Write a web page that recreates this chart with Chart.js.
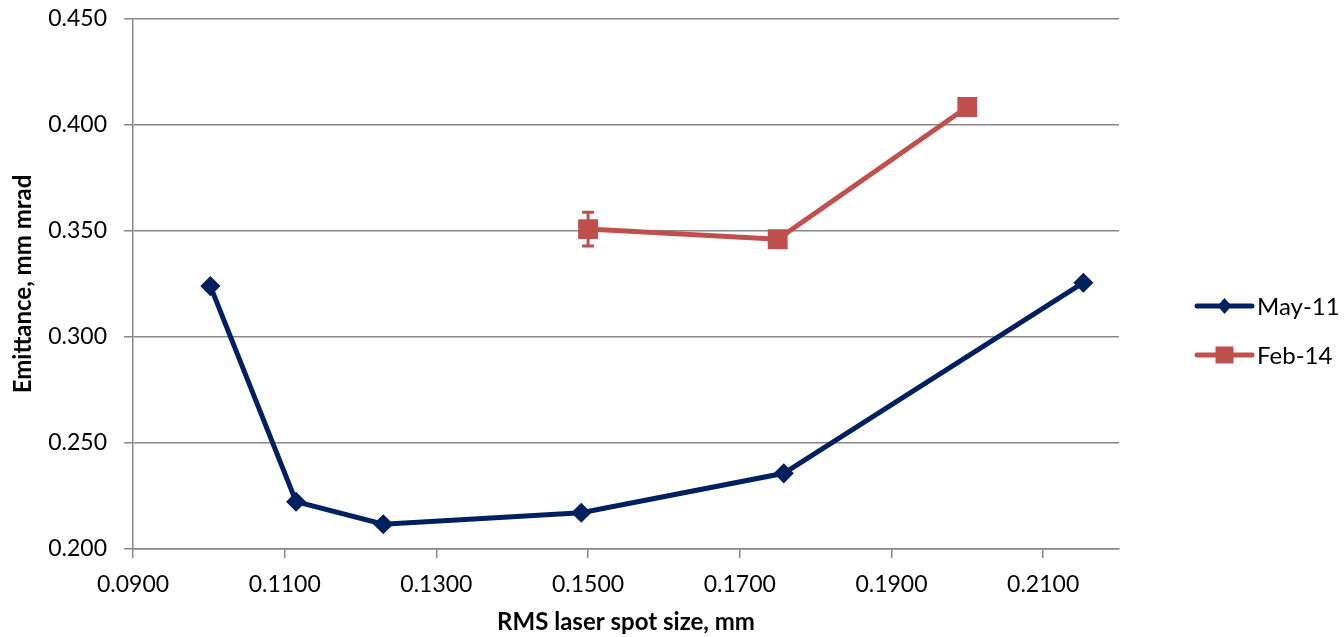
<!DOCTYPE html>
<html>
<head>
<meta charset="utf-8">
<script src="https://cdn.jsdelivr.net/npm/chart.js@4/dist/chart.umd.min.js"></script>
<style>
  html, body { margin: 0; padding: 0; background: #fff; }
  #wrap { width: 1344px; height: 637px; }
</style>
</head>
<body>
<div id="wrap"><canvas id="emitChart" width="1344" height="637"></canvas></div>
<script>
// ==== data ====
const may11X = [0.1002, 0.1115, 0.1230, 0.1491, 0.1758, 0.2153];
const may11Y = [0.3240, 0.2223, 0.2117, 0.2171, 0.2357, 0.3256];
const feb14X = [0.1500, 0.1750, 0.2000];
const feb14Y = [0.3509, 0.3461, 0.4085];
const feb14Err = [0.008, 0, 0];
const xTicks = [0.09, 0.11, 0.13, 0.15, 0.17, 0.19, 0.21];
const yTicks = [0.20, 0.25, 0.30, 0.35, 0.40, 0.45];

const navy = '#002060';
const red = '#C0504D';
const gridGray = '#878787';
const fontFamily = 'Lato, "Open Sans", sans-serif';

function toPoints(xs, ys) {
  return xs.map((x, i) => ({ x: x, y: ys[i] }));
}

// error bars on the Feb-14 series, drawn through the y scale
const errorBars = {
  id: 'errorBars',
  afterDatasetsDraw(chart) {
    const ctx = chart.ctx;
    const xs = chart.scales.x, ys = chart.scales.y;
    ctx.save();
    ctx.strokeStyle = red;
    ctx.lineWidth = 3;
    feb14X.forEach((x, i) => {
      if (!feb14Err[i]) return;
      const px = xs.getPixelForValue(x);
      const top = ys.getPixelForValue(feb14Y[i] + feb14Err[i]);
      const bot = ys.getPixelForValue(feb14Y[i] - feb14Err[i]);
      ctx.beginPath();
      ctx.moveTo(px, top); ctx.lineTo(px, bot);
      ctx.moveTo(px - 6, top); ctx.lineTo(px + 6, top);
      ctx.moveTo(px - 6, bot); ctx.lineTo(px + 6, bot);
      ctx.stroke();
    });
    ctx.restore();
  }
};

// legend to the right: line sample with marker, then label
const sideLegend = {
  id: 'sideLegend',
  afterDraw(chart) {
    const ctx = chart.ctx;
    const area = chart.chartArea;
    const x0 = area.right + 78;
    ctx.save();
    chart.data.datasets.forEach((ds, i) => {
      const y = area.top + 287 + i * 49;
      ctx.strokeStyle = ds.borderColor;
      ctx.lineWidth = 5;
      ctx.lineCap = 'round';
      ctx.beginPath();
      ctx.moveTo(x0, y); ctx.lineTo(x0 + 55, y);
      ctx.stroke();
      ctx.fillStyle = ds.borderColor;
      const cx = x0 + 27.5;
      ctx.beginPath();
      if (ds.pointStyle === 'rectRot') {
        ctx.moveTo(cx - 7, y); ctx.lineTo(cx, y - 8);
        ctx.lineTo(cx + 7, y); ctx.lineTo(cx, y + 8);
      } else {
        ctx.rect(cx - 9, y - 8.5, 18, 17);
      }
      ctx.closePath();
      ctx.fill();
      ctx.fillStyle = '#000';
      ctx.font = '24px ' + fontFamily;
      ctx.textBaseline = 'middle';
      ctx.textAlign = 'left';
      ctx.fillText(ds.label, x0 + 60, y + 1);
    });
    ctx.restore();
  }
};

new Chart(document.getElementById('emitChart'), {
  type: 'scatter',
  data: {
    datasets: [{
      label: 'May-11',
      data: toPoints(may11X, may11Y),
      showLine: true,
      borderColor: navy,
      backgroundColor: navy,
      borderWidth: 5,
      pointStyle: 'rectRot',
      pointRadius: 9,
      pointBorderWidth: 1.5,
      pointHoverRadius: 9
    }, {
      label: 'Feb-14',
      data: toPoints(feb14X, feb14Y),
      showLine: true,
      borderColor: red,
      backgroundColor: red,
      borderWidth: 5,
      pointStyle: 'rect',
      pointRadius: 13,
      pointBorderWidth: 1.5,
      pointHoverRadius: 13
    }]
  },
  options: {
    responsive: false,
    animation: false,
    layout: { padding: { top: 19, right: 225, left: 0, bottom: 0 } },
    plugins: {
      legend: { display: false },
      tooltip: { enabled: false }
    },
    scales: {
      x: {
        type: 'linear',
        min: 0.09,
        max: 0.22,
        afterBuildTicks: (scale) => { scale.ticks = xTicks.map(v => ({ value: v })); },
        afterFit: (scale) => {
          scale.height = 88;
          scale.paddingLeft = 0;
          scale.paddingRight = 0;
        },
        border: { color: gridGray, width: 1.5 },
        grid: { drawOnChartArea: false, drawTicks: true, tickLength: 9, color: gridGray, lineWidth: 1.5 },
        ticks: {
          color: '#000',
          padding: 13,
          maxRotation: 0,
          font: { family: fontFamily, size: 23 },
          callback: (v) => Number(v).toFixed(4)
        },
        title: {
          display: true,
          text: 'RMS laser spot size, mm',
          color: '#000',
          padding: { top: 0, bottom: 0 },
          font: { family: fontFamily, size: 24, weight: 'bold' }
        }
      },
      y: {
        type: 'linear',
        min: 0.20,
        max: 0.45,
        afterBuildTicks: (scale) => { scale.ticks = yTicks.map(v => ({ value: v })); },
        afterFit: (scale) => {
          scale.width = 133;
          scale.paddingTop = 0;
          scale.paddingBottom = 0;
        },
        border: { color: gridGray, width: 1.5 },
        grid: { drawTicks: true, tickLength: 9, color: gridGray, lineWidth: 1.5 },
        ticks: {
          color: '#000',
          padding: 17,
          font: { family: fontFamily, size: 23 },
          callback: (v) => Number(v).toFixed(3)
        },
        title: {
          display: true,
          text: 'Emittance, mm mrad',
          color: '#000',
          padding: { top: 9, bottom: 0 },
          font: { family: fontFamily, size: 24, weight: 'bold' }
        }
      }
    }
  },
  plugins: [errorBars, sideLegend]
});
</script>
</body>
</html>
